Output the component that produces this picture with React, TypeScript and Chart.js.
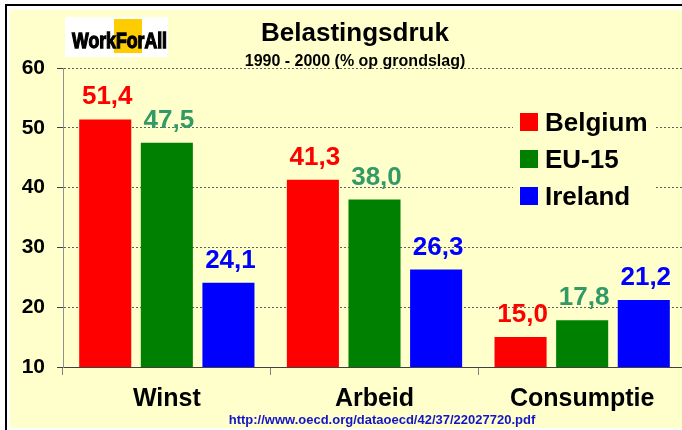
import { useEffect, useRef } from 'react';
import { Chart, registerables } from 'chart.js';

Chart.register(...registerables);

const categories = ['Winst', 'Arbeid', 'Consumptie'];
const seriesNames = ['Belgium', 'EU-15', 'Ireland'];
const belgium = [51.4, 41.3, 15.0];
const eu15 = [47.5, 38.0, 17.8];
const ireland = [24.1, 26.3, 21.2];
const yTicks = [10, 20, 30, 40, 50, 60];
const barColors = ['#FF0000', '#008000', '#0000FF'];
const labelColors = ['#FF0000', '#339966', '#0000FF'];
const titleText = 'Belastingsdruk';
const subtitleText = '1990 - 2000 (% op grondslag)';
const sourceText = 'http://www.oecd.org/dataoecd/42/37/22027720.pdf';
const logoText = 'WorkForAll';

const FONT = '"Liberation Sans", Arial, Helvetica, sans-serif';
const fmt = (v: number) => v.toFixed(1).replace('.', ',');

const decorPlugin = {
  id: 'decor',
  beforeDraw(chart: any) {
    const ctx = chart.ctx;
    ctx.save();
    ctx.fillStyle = '#FFFFFF';
    ctx.fillRect(0, 0, chart.width, chart.height);
    ctx.fillStyle = '#000000';
    ctx.fillRect(5, 4, chart.width, 2);
    ctx.fillRect(5, 4, 2, chart.height);
    ctx.fillStyle = '#FFFFCC';
    ctx.fillRect(10, 10, chart.width - 10, 418);
    ctx.restore();
  },
  beforeDatasetsDraw(chart: any) {
    const ctx = chart.ctx;
    ctx.save();
    // legend box
    ctx.fillStyle = '#FFFFCC';
    ctx.fillRect(513, 104, 142, 110);
    const rows = [122, 159, 196];
    chart.data.datasets.forEach((ds: any, i: number) => {
      const cy = rows[i];
      ctx.fillStyle = ds.backgroundColor;
      ctx.fillRect(520, cy - 9, 18, 18);
      ctx.fillStyle = '#000000';
      ctx.font = `bold 26px ${FONT}`;
      ctx.textAlign = 'left';
      ctx.textBaseline = 'alphabetic';
      ctx.fillText(ds.label, 545, cy + 9);
    });
    ctx.restore();
  },
  afterDatasetsDraw(chart: any) {
    const ctx = chart.ctx;
    ctx.save();
    ctx.font = `bold 26px ${FONT}`;
    ctx.textAlign = 'center';
    ctx.textBaseline = 'alphabetic';
    chart.data.datasets.forEach((ds: any, i: number) => {
      const meta = chart.getDatasetMeta(i);
      meta.data.forEach((bar: any, j: number) => {
        ctx.fillStyle = labelColors[i];
        ctx.fillText(fmt(ds.data[j]), bar.x + 2, bar.y - 15);
      });
    });
    ctx.restore();
  },
  afterDraw(chart: any) {
    const ctx = chart.ctx;
    ctx.save();
    // title
    ctx.fillStyle = '#000000';
    ctx.textAlign = 'center';
    ctx.textBaseline = 'alphabetic';
    ctx.font = `bold 26px ${FONT}`;
    ctx.fillText(titleText, 355, 41);
    ctx.font = `bold 16px ${FONT}`;
    ctx.fillText(subtitleText, 355, 66);
    // logo
    ctx.fillStyle = '#FFFFFF';
    ctx.fillRect(65, 17, 103, 40);
    ctx.fillStyle = '#FFCC00';
    ctx.fillRect(114, 19, 28, 34);
    ctx.fillStyle = '#000000';
    ctx.strokeStyle = '#000000';
    ctx.lineWidth = 1.3;
    ctx.textAlign = 'left';
    ctx.font = `bold 22px ${FONT}`;
    ctx.fillText(logoText, 72, 48, 95);
    ctx.strokeText(logoText, 72, 48, 95);
    // source
    ctx.fillStyle = '#1414C8';
    ctx.textAlign = 'center';
    ctx.font = `bold 13px ${FONT}`;
    ctx.fillText(sourceText, 382, 424);
    ctx.restore();
  },
};

export default function App() {
  const ref = useRef<HTMLCanvasElement | null>(null);

  useEffect(() => {
    document.body.style.margin = '0';
    document.body.style.overflow = 'hidden';
    const canvas = ref.current;
    if (!canvas) return;
    const values = [belgium, eu15, ireland];
    const chart = new Chart(canvas, {
      type: 'bar',
      data: {
        labels: categories,
        datasets: seriesNames.map((name, i) => ({
          label: name,
          data: values[i],
          backgroundColor: barColors[i],
          borderWidth: 0,
          categoryPercentage: 0.89,
          barPercentage: 0.845,
        })),
      },
      options: {
        animation: false,
        responsive: false,
        devicePixelRatio: 1,
        layout: { padding: { top: 68, left: 0, right: 4, bottom: 0 } },
        plugins: {
          legend: { display: false },
          title: { display: false },
          tooltip: { enabled: false },
        },
        scales: {
          x: {
            grid: {
              offset: true,
              drawOnChartArea: false,
              drawTicks: true,
              tickLength: 8,
              color: '#808080',
              tickColor: '#808080',
            },
            border: { display: true, color: '#404040', width: 1 },
            ticks: {
              font: { family: FONT, size: 25, weight: 'bold' },
              color: '#000000',
              padding: 9,
            },
            afterFit(scale: any) {
              scale.height = 63;
            },
          },
          y: {
            min: yTicks[0],
            max: yTicks[yTicks.length - 1],
            afterBuildTicks(scale: any) {
              scale.ticks = yTicks.map((v) => ({ value: v }));
            },
            grid: {
              color: '#606060',
              tickColor: '#404040',
              tickLength: 6,
              tickBorderDash: [],
              lineWidth: 1,
            },
            border: { display: true, color: '#909090', width: 1, dash: [2, 2] },
            ticks: {
              font: { family: FONT, size: 21, weight: 'bold' },
              color: '#000000',
              padding: 12,
            },
            afterFit(scale: any) {
              scale.width = 63;
            },
          },
        },
      },
      plugins: [decorPlugin],
    } as any);
    return () => chart.destroy();
  }, []);

  return (
    <div style={{ width: 682, height: 430, overflow: 'hidden', position: 'relative' }}>
      <canvas ref={ref} width={690} height={430} style={{ display: 'block' }} />
    </div>
  );
}
